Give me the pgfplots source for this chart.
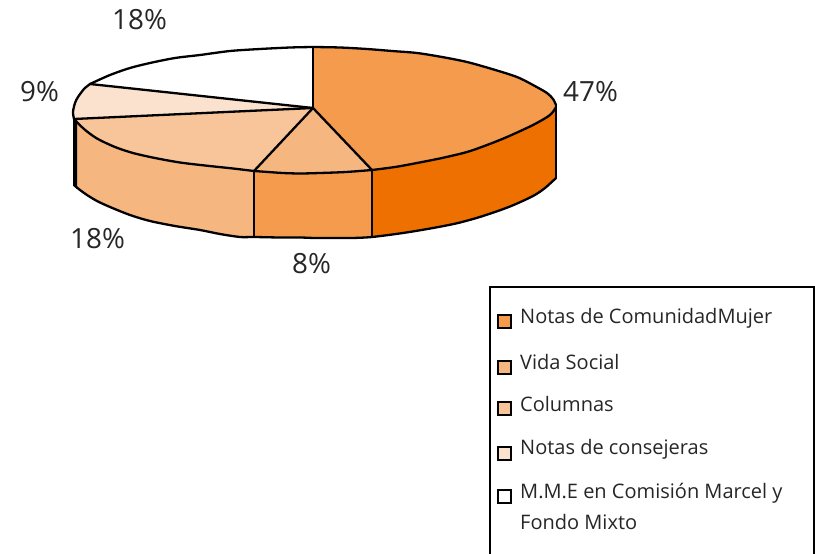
\documentclass[border=0pt]{standalone}
\usepackage{pgfplots}
\pgfplotsset{compat=1.18}
\usepackage{fontspec}
\setmainfont{Open Sans}
\definecolor{oA}{HTML}{F49B4E}
\definecolor{oB}{HTML}{F5B680}
\definecolor{oC}{HTML}{F8C59A}
\definecolor{oD}{HTML}{FBE2CE}
\definecolor{oE}{HTML}{EE7000}
\definecolor{txt}{HTML}{262626}
\tikzset{
  ol/.style={draw=black,line width=2.3pt,mark=none,line join=round,line cap=round},
  fl/.style={draw=none,mark=none,fill=#1},
  sw/.style={draw=black,line width=2.2pt,mark=none,line join=miter,fill=#1},
  lab/.style={anchor=base west,inner sep=0pt,text=txt,font=\fontsize{27.8}{28}\selectfont},
  leg/.style={anchor=base west,inner sep=0pt,text=txt,font=\fontsize{20}{20}\selectfont},
}
\begin{document}
\begin{tikzpicture}
\begin{axis}[
  name=ax,
  x=1pt,y=1pt,scale only axis,
  xmin=0,xmax=815,ymin=0,ymax=554,y dir=reverse,
  axis lines=none,
]
% side faces (fills)
\addplot[fl=oE] coordinates {(372,170) (395,167) (417,163) (442,158) (467,152) (487,145) (507,137) (533,125) (550,115) (556,107) (556,178) (545,188) (533,196) (510,206.5) (483,216) (458,223) (433,228) (403,233) (372,237)} -- cycle;
\addplot[fl=oA] coordinates {(254,171) (268,172) (283,173) (300,173.5) (320,173) (346,172) (372,170) (372,237) (352,238) (333,238) (315,238) (300,237.5) (280,237.5) (254,237)} -- cycle;
\addplot[fl=oB] coordinates {(74,119) (84,129) (97,138.5) (115,147) (133,153) (155,158) (180,162.5) (205,165.5) (233,168.5) (254,171) (254,237) (240,237) (220,234) (200,230) (175,226) (150,221) (130,215) (110,207) (97,201) (87,195) (80,190) (74,185)} -- cycle;
\addplot[fl=black] coordinates {(73,117) (77,122) (77,189) (73,185)} -- cycle;
% top faces (fills)
\addplot[fl=oA] coordinates {(313,108) (313,47) (340,47.5) (367,49) (392,51) (417,53) (442,57) (467,62) (492,69) (517,77) (533,85) (547,93) (553,99) (556,105) (556,107) (550,115) (533,125) (507,137) (487,145) (467,152) (442,158) (417,163) (395,167) (372,170)} -- cycle;
\addplot[fl=oB] coordinates {(313,108) (372,170) (346,172) (320,173) (300,173.5) (283,173) (268,172) (254,171)} -- cycle;
\addplot[fl=oC] coordinates {(313,108) (254,171) (233,168.5) (205,165.5) (180,162.5) (155,158) (133,153) (115,147) (97,138.5) (84,129) (74,119)} -- cycle;
\addplot[fl=oD] coordinates {(313,108) (74,119) (73,112) (75,103) (78,97) (84,89) (90,84)} -- cycle;
\addplot[fl=white] coordinates {(313,108) (90,84) (110,75) (130,68) (150,63) (175,58) (200,55) (230,51) (260,49) (290,47.5) (313,47)} -- cycle;
% outlines
\addplot[ol,smooth,tension=0.5] coordinates {(313,47) (340,47.5) (367,49) (392,51) (417,53) (442,57) (467,62) (492,69) (517,77) (533,85) (547,93) (553,99) (556,105)};
\addplot[ol,smooth,tension=0.5] coordinates {(556,107) (550,115) (533,125) (507,137) (487,145) (467,152) (442,158) (417,163) (395,167) (372,170)};
\addplot[ol,smooth,tension=0.5] coordinates {(372,170) (346,172) (320,173) (300,173.5) (283,173) (268,172) (254,171)};
\addplot[ol,smooth,tension=0.5] coordinates {(254,171) (233,168.5) (205,165.5) (180,162.5) (155,158) (133,153) (115,147) (97,138.5) (84,129) (74,119)};
\addplot[ol,smooth,tension=0.5] coordinates {(74,119) (73,112) (75,103) (78,97) (84,89) (90,84)};
\addplot[ol,smooth,tension=0.5] coordinates {(90,84) (110,75) (130,68) (150,63) (175,58) (200,55) (230,51) (260,49) (290,47.5) (313,47)};
\addplot[ol,smooth,tension=0.5] coordinates {(556,178) (545,188) (533,196) (510,206.5) (483,216) (458,223) (433,228) (403,233) (372,237) (352,238) (333,238) (315,238) (300,237.5) (280,237.5) (254,237) (240,237) (220,234) (200,230) (175,226) (150,221) (130,215) (110,207) (97,201) (87,195) (80,190) (74,185)};
\addplot[ol] coordinates {(313,47) (313,108)};
\addplot[ol] coordinates {(90,84) (313,108)};
\addplot[ol] coordinates {(74,119) (313,108)};
\addplot[ol] coordinates {(254,171) (313,108)};
\addplot[ol] coordinates {(372,170) (313,108)};
\addplot[ol] coordinates {(254,171) (254,237)};
\addplot[ol] coordinates {(372,170) (372,237)};
\addplot[ol] coordinates {(556,105) (556,178)};
% legend box
\addplot[draw=black,line width=2pt,mark=none,line join=miter] coordinates {(489.5,554) (489.5,287) (814,287) (814,554)};
\addplot[sw=oA] coordinates {(498,315) (511,315) (511,328) (498,328)} -- cycle;
\addplot[sw=oB] coordinates {(498,361) (511,361) (511,374) (498,374)} -- cycle;
\addplot[sw=oC] coordinates {(498,402) (511,402) (511,415) (498,415)} -- cycle;
\addplot[sw=oD] coordinates {(498,447) (511,447) (511,460) (498,460)} -- cycle;
\addplot[sw=white] coordinates {(498,490) (511,490) (511,503) (498,503)} -- cycle;
% texts
\node[lab] at (axis cs:112,29) {18\%};
\node[lab] at (axis cs:20,101) {9\%};
\node[lab] at (axis cs:70,248) {18\%};
\node[lab] at (axis cs:292,273) {8\%};
\node[lab] at (axis cs:563,101) {47\%};
\node[leg] at (axis cs:520,323.5) {Notas de ComunidadMujer};
\node[leg] at (axis cs:520,369.5) {Vida Social};
\node[leg] at (axis cs:520,411) {Columnas};
\node[leg] at (axis cs:520,454.5) {Notas de consejeras};
\node[leg] at (axis cs:520,498.5) {M.M.E en Comisión Marcel y};
\node[leg] at (axis cs:520,529) {Fondo Mixto};
\end{axis}
\pgfresetboundingbox
\path[use as bounding box] (ax.south west) rectangle (ax.north east);
\end{tikzpicture}
\end{document}
